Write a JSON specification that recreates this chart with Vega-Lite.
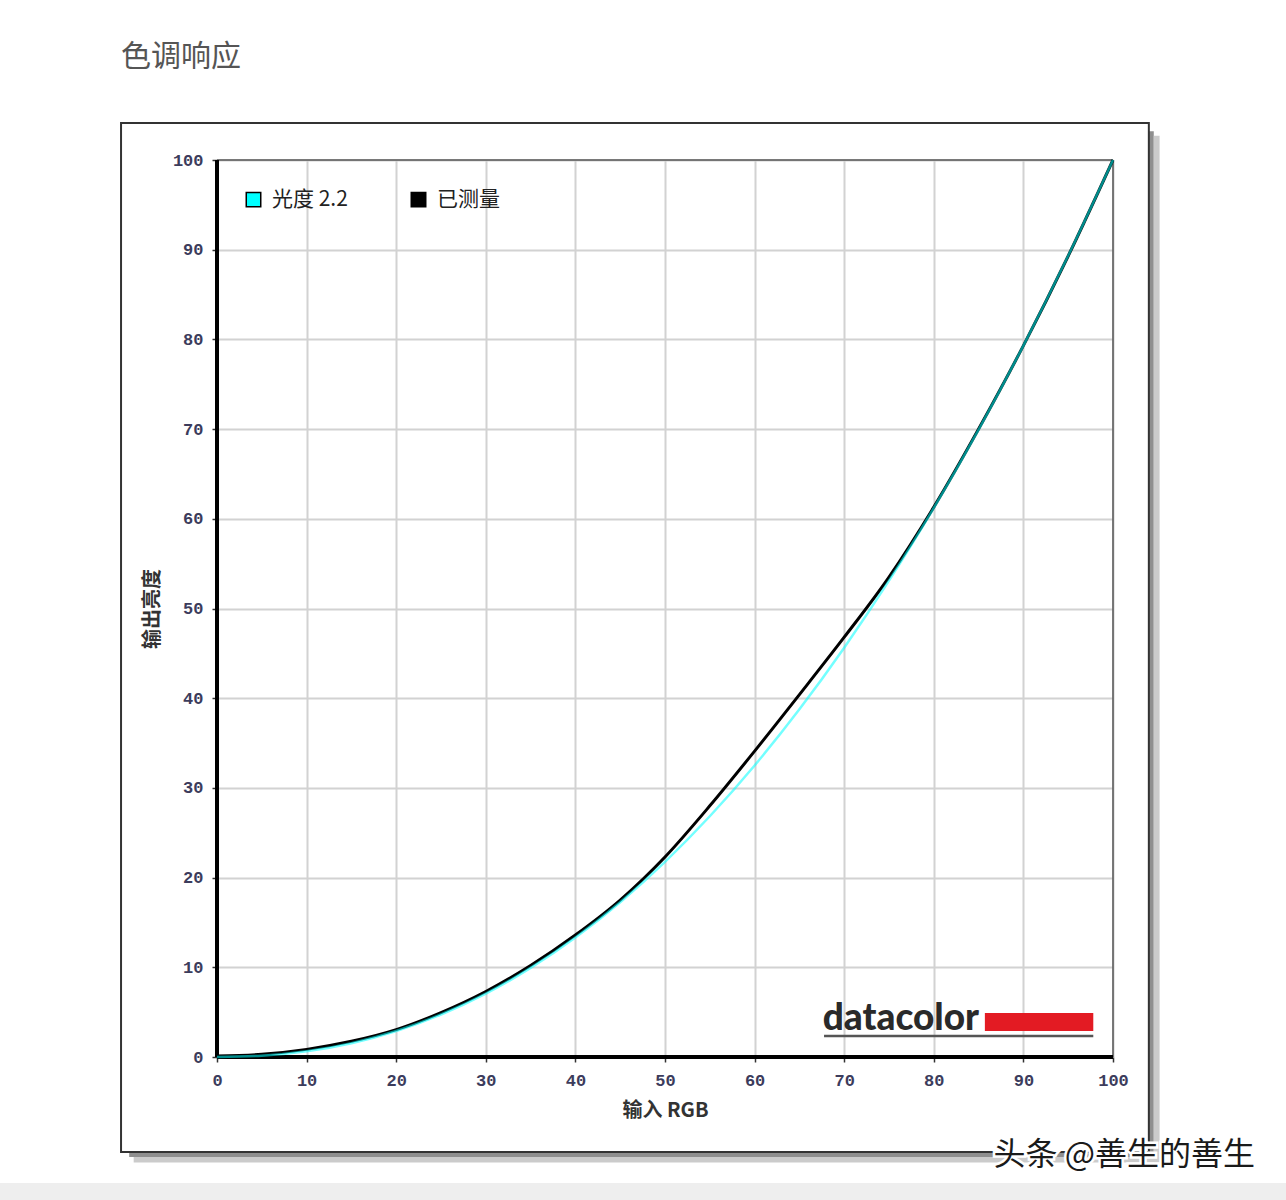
{
  "$schema": "https://vega.github.io/schema/vega-lite/v6.json",
  "width": 896,
  "height": 897,
  "autosize": {"type": "none"},
  "padding": {"left": 217, "top": 160, "right": 173, "bottom": 143},
  "background": "#ffffff",
  "config": {"view": {"stroke": null}},
  "datasets": {
    "curves": [
      {"rgb": 0, "lum": 0, "series": "光度 2.2"},
      {"rgb": 5, "lum": 0.14, "series": "光度 2.2"},
      {"rgb": 10, "lum": 0.63, "series": "光度 2.2"},
      {"rgb": 15, "lum": 1.54, "series": "光度 2.2"},
      {"rgb": 20, "lum": 2.9, "series": "光度 2.2"},
      {"rgb": 25, "lum": 4.74, "series": "光度 2.2"},
      {"rgb": 30, "lum": 7.07, "series": "光度 2.2"},
      {"rgb": 35, "lum": 9.93, "series": "光度 2.2"},
      {"rgb": 40, "lum": 13.32, "series": "光度 2.2"},
      {"rgb": 45, "lum": 17.26, "series": "光度 2.2"},
      {"rgb": 50, "lum": 21.76, "series": "光度 2.2"},
      {"rgb": 55, "lum": 26.84, "series": "光度 2.2"},
      {"rgb": 60, "lum": 32.5, "series": "光度 2.2"},
      {"rgb": 65, "lum": 38.76, "series": "光度 2.2"},
      {"rgb": 70, "lum": 45.63, "series": "光度 2.2"},
      {"rgb": 75, "lum": 53.1, "series": "光度 2.2"},
      {"rgb": 80, "lum": 61.21, "series": "光度 2.2"},
      {"rgb": 85, "lum": 69.94, "series": "光度 2.2"},
      {"rgb": 90, "lum": 79.31, "series": "光度 2.2"},
      {"rgb": 95, "lum": 89.33, "series": "光度 2.2"},
      {"rgb": 100, "lum": 100, "series": "光度 2.2"},
      {"rgb": 0, "lum": 0.1, "series": "已测量"},
      {"rgb": 5, "lum": 0.3, "series": "已测量"},
      {"rgb": 10, "lum": 0.85, "series": "已测量"},
      {"rgb": 15, "lum": 1.75, "series": "已测量"},
      {"rgb": 20, "lum": 3.05, "series": "已测量"},
      {"rgb": 25, "lum": 4.95, "series": "已测量"},
      {"rgb": 30, "lum": 7.3, "series": "已测量"},
      {"rgb": 35, "lum": 10.2, "series": "已测量"},
      {"rgb": 40, "lum": 13.6, "series": "已测量"},
      {"rgb": 45, "lum": 17.5, "series": "已测量"},
      {"rgb": 50, "lum": 22.3, "series": "已测量"},
      {"rgb": 55, "lum": 28.0, "series": "已测量"},
      {"rgb": 60, "lum": 34.1, "series": "已测量"},
      {"rgb": 65, "lum": 40.4, "series": "已测量"},
      {"rgb": 70, "lum": 46.8, "series": "已测量"},
      {"rgb": 75, "lum": 53.5, "series": "已测量"},
      {"rgb": 80, "lum": 61.3, "series": "已测量"},
      {"rgb": 85, "lum": 70.0, "series": "已测量"},
      {"rgb": 90, "lum": 79.3, "series": "已测量"},
      {"rgb": 95, "lum": 89.3, "series": "已测量"},
      {"rgb": 100, "lum": 100, "series": "已测量"}
    ],
    "one": [{}]
  },
  "encoding": {
    "x": {
      "type": "quantitative",
      "scale": {"domain": [0, 100], "nice": false, "zero": false},
      "axis": {
        "values": [0, 10, 20, 30, 40, 50, 60, 70, 80, 90, 100],
        "domain": false,
        "ticks": true, "tickSize": 5, "tickColor": "#333333", "tickWidth": 1.5,
        "labelFont": "Liberation Mono", "labelFontWeight": "bold", "labelFontSize": 17,
        "labelColor": "#3c3c5c", "labelPadding": 10, "labelFlush": false,
        "grid": true, "gridColor": "#d2d2d2", "gridWidth": 2,
        "title": "输入 RGB", "titleFont": "Noto Sans CJK SC", "titleFontSize": 20,
        "titleFontWeight": "bold", "titleColor": "#333333", "titlePadding": 12
      }
    },
    "y": {
      "type": "quantitative",
      "scale": {"domain": [0, 100], "nice": false, "zero": false},
      "axis": {
        "values": [0, 10, 20, 30, 40, 50, 60, 70, 80, 90, 100],
        "domain": false,
        "ticks": true, "tickSize": 5, "tickColor": "#333333", "tickWidth": 1.5,
        "labelFont": "Liberation Mono", "labelFontWeight": "bold", "labelFontSize": 17,
        "labelColor": "#3c3c5c", "labelPadding": 9,
        "grid": true, "gridColor": "#d2d2d2", "gridWidth": 2,
        "title": "输出亮度", "titleFont": "Noto Sans CJK SC", "titleFontSize": 20,
        "titleFontWeight": "bold", "titleColor": "#333333", "titlePadding": 10
      }
    }
  },
  "layer": [
    {
      "data": {"name": "one"},
      "mark": {"type": "rect", "fill": "#8f8f8f", "clip": false},
      "encoding": {"x": {"datum": 104.0}, "x2": {"datum": 104.55}, "y": {"datum": 103.2}, "y2": {"datum": -11.15}}
    },
    {
      "data": {"name": "one"},
      "mark": {"type": "rect", "fill": "#cbcbcb", "clip": false},
      "encoding": {"x": {"datum": 104.55}, "x2": {"datum": 105.2}, "y": {"datum": 102.7}, "y2": {"datum": -11.75}}
    },
    {
      "data": {"name": "one"},
      "mark": {"type": "rect", "fill": "#8f8f8f", "clip": false},
      "encoding": {"x": {"datum": -9.8}, "x2": {"datum": 104.55}, "y": {"datum": -10.59}, "y2": {"datum": -11.15}}
    },
    {
      "data": {"name": "one"},
      "mark": {"type": "rect", "fill": "#cbcbcb", "clip": false},
      "encoding": {"x": {"datum": -9.3}, "x2": {"datum": 105.2}, "y": {"datum": -11.15}, "y2": {"datum": -11.75}}
    },
    {
      "data": {"name": "one"},
      "mark": {"type": "rect", "fill": "transparent", "stroke": "#333333", "strokeWidth": 2, "clip": false},
      "encoding": {"x": {"datum": -10.71}, "x2": {"datum": 104.0}, "y": {"datum": 104.13}, "y2": {"datum": -10.59}}
    },
    {
      "data": {"name": "one"},
      "mark": {"type": "rect", "fill": "#eeeeee", "clip": false},
      "encoding": {"x": {"datum": -24.3}, "x2": {"datum": 119.4}, "y": {"datum": -14.05}, "y2": {"datum": -16.0}}
    },
    {
      "data": {"name": "one"},
      "mark": {"type": "rule", "stroke": "#555555", "strokeWidth": 1.5},
      "encoding": {"x": {"datum": 100}}
    },
    {
      "data": {"name": "one"},
      "mark": {"type": "rule", "stroke": "#555555", "strokeWidth": 1.5},
      "encoding": {"y": {"datum": 100}}
    },
    {
      "data": {"name": "one"},
      "mark": {"type": "rule", "stroke": "#000000", "strokeWidth": 4},
      "encoding": {"x": {"datum": 0}}
    },
    {
      "data": {"name": "one"},
      "mark": {"type": "rule", "stroke": "#000000", "strokeWidth": 4},
      "encoding": {"y": {"datum": 0}}
    },
    {
      "data": {"name": "curves"},
      "mark": {"type": "point", "shape": "square", "filled": true, "stroke": "#000000", "strokeWidth": 1.5, "opacity": 0, "size": 1},
      "encoding": {
        "x": {"field": "rgb", "type": "quantitative"},
        "y": {"field": "lum", "type": "quantitative"},
        "color": {
          "field": "series", "type": "nominal",
          "scale": {"domain": ["光度 2.2", "已测量"], "range": ["#00ffff", "#000000"]},
          "legend": {
            "title": null, "orient": "none", "legendX": 26, "legendY": 29,
            "direction": "horizontal", "symbolType": "square", "symbolSize": 210,
            "symbolOpacity": 1, "symbolStrokeWidth": 1.5,
            "labelFont": "Noto Sans CJK SC", "labelFontSize": 21,
            "labelColor": "#222222", "labelOffset": 8, "columnPadding": 60
          }
        }
      }
    },
    {
      "data": {"name": "curves"},
      "transform": [{"filter": "datum.series === '已测量'"}],
      "mark": {"type": "line", "stroke": "#000000", "strokeWidth": 3, "interpolate": "monotone"},
      "encoding": {
        "x": {"field": "rgb", "type": "quantitative"},
        "y": {"field": "lum", "type": "quantitative"}
      }
    },
    {
      "data": {"name": "curves"},
      "transform": [{"filter": "datum.series === '光度 2.2'"}],
      "mark": {"type": "line", "stroke": "#00ffff", "strokeWidth": 2.5, "opacity": 0.55, "interpolate": "monotone"},
      "encoding": {
        "x": {"field": "rgb", "type": "quantitative"},
        "y": {"field": "lum", "type": "quantitative"}
      }
    },
    {
      "data": {"name": "one"},
      "mark": {"type": "text", "text": "datacolor", "font": "Lato", "fontWeight": 900, "fontSize": 37, "fill": "#2a2a2a", "align": "left", "baseline": "alphabetic", "clip": false},
      "encoding": {"x": {"datum": 67.6}, "y": {"datum": 3.05}}
    },
    {
      "data": {"name": "one"},
      "mark": {"type": "rect", "fill": "#e31b23"},
      "encoding": {"x": {"datum": 85.7}, "x2": {"datum": 97.8}, "y": {"datum": 4.9}, "y2": {"datum": 2.9}}
    },
    {
      "data": {"name": "one"},
      "mark": {"type": "rule", "stroke": "#555555", "strokeWidth": 2.5},
      "encoding": {"x": {"datum": 67.75}, "x2": {"datum": 97.8}, "y": {"datum": 2.34}}
    },
    {
      "data": {"name": "one"},
      "mark": {"type": "text", "text": "色调响应", "font": "Noto Sans CJK SC", "fontSize": 30, "fill": "#555555", "align": "left", "baseline": "middle", "clip": false},
      "encoding": {"x": {"datum": -10.71}, "y": {"datum": 111.5}}
    },
    {
      "data": {"name": "one"},
      "mark": {"type": "text", "text": "头条 @善生的善生", "font": "Noto Sans CJK SC", "fontSize": 32, "fill": "#ffffff", "stroke": "#ffffff", "strokeWidth": 5, "align": "right", "baseline": "middle", "clip": false},
      "encoding": {"x": {"datum": 115.85}, "y": {"datum": -10.93}}
    },
    {
      "data": {"name": "one"},
      "mark": {"type": "text", "text": "头条 @善生的善生", "font": "Noto Sans CJK SC", "fontSize": 32, "fill": "#1a1a1a", "align": "right", "baseline": "middle", "clip": false},
      "encoding": {"x": {"datum": 115.85}, "y": {"datum": -10.93}}
    }
  ]
}
